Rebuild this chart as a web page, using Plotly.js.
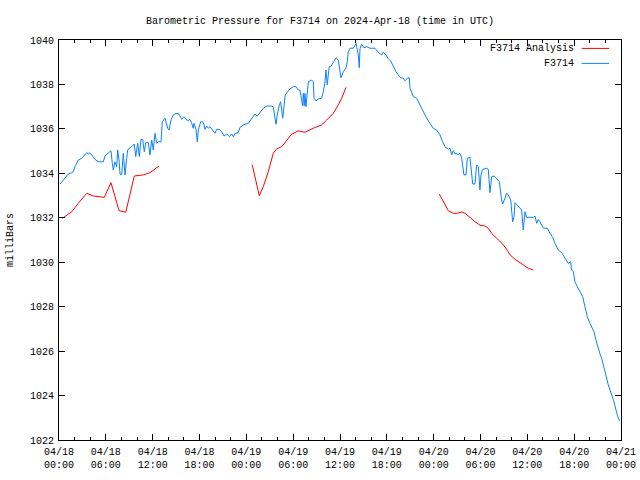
<!DOCTYPE html>
<html>
<head>
<meta charset="utf-8">
<script src="https://cdn.plot.ly/plotly-3.0.1.min.js"></script>
<style>html,body{margin:0;padding:0;background:#fff;}#chart{width:640px;height:480px;}</style>
</head>
<body>
<div id="chart"></div>
<script>
// Hours after 2024-04-18 00:00 UTC, and pressure in millibars
const obsHours = [0.13,0.55,0.77,1.19,1.63,1.83,2.05,2.47,2.91,3.33,3.55,3.75,3.97,4.19,4.61,5.03,5.68,5.89,6.32,6.66,6.83,6.96,7.17,7.39,7.52,7.69,7.82,8.03,8.24,8.46,8.67,8.80,8.97,9.31,9.65,9.83,10.08,10.29,10.50,10.72,10.93,11.11,11.44,11.66,11.88,12.08,12.30,12.52,12.72,13.07,13.23,13.58,13.93,14.09,14.35,14.64,14.86,15.28,15.50,15.72,16.01,16.27,16.56,16.78,17.00,17.20,17.29,17.55,17.72,17.85,18.15,18.41,18.58,18.70,18.92,19.13,19.34,19.69,19.98,20.20,20.54,20.84,21.14,21.48,21.82,22.12,22.33,22.55,22.97,23.19,23.61,24.25,24.69,25.11,25.40,25.75,26.17,26.61,27.25,27.45,27.67,27.80,27.97,28.22,28.40,28.66,28.82,28.99,29.25,29.59,30.02,30.36,30.66,30.87,31.09,31.22,31.30,31.42,31.51,31.64,31.86,31.94,32.37,32.58,32.67,32.92,33.22,33.65,33.86,34.08,34.20,34.37,34.50,34.63,34.81,35.14,35.49,35.78,36.00,36.13,36.42,36.77,36.93,37.06,37.28,37.70,38.05,38.34,38.47,38.56,38.78,39.07,39.42,39.84,40.48,40.78,41.03,41.34,41.55,41.89,42.19,42.49,42.83,43.17,43.47,43.77,44.11,44.32,44.62,44.88,44.97,45.18,45.39,45.82,46.25,46.46,46.76,47.10,47.53,47.95,48.39,48.81,49.15,49.45,49.87,50.09,50.31,50.51,50.73,50.95,51.15,51.37,51.59,51.72,51.88,52.14,52.31,52.65,52.87,53.00,53.29,53.51,53.72,53.93,54.06,54.28,54.79,55.00,55.21,55.43,55.73,56.07,56.41,56.71,56.84,57.14,57.35,57.56,57.87,58.12,58.29,58.42,58.71,59.06,59.27,59.48,59.70,59.92,60.76,60.98,61.20,61.40,61.62,62.04,62.55,62.90,63.25,63.54,63.96,64.40,64.69,65.04,65.24,65.55,65.68,65.89,66.10,66.40,66.74,67.09,67.38,67.68,68.02,68.37,68.54,68.79,69.09,69.31,69.52,69.82,70.07,70.37,70.59,70.93,71.10,71.36,71.65,71.86];
const obsPressure = [1033.52,1033.70,1033.79,1033.97,1034.03,1034.07,1034.30,1034.60,1034.68,1034.87,1034.93,1034.87,1034.93,1034.83,1034.63,1034.52,1034.52,1034.78,1034.90,1035.02,1034.45,1034.15,1034.52,1034.30,1035.05,1034.60,1033.97,1033.93,1034.90,1033.93,1034.68,1035.05,1035.13,1035.20,1035.32,1034.75,1035.35,1034.75,1035.53,1035.53,1034.97,1035.38,1035.38,1034.83,1035.50,1035.05,1035.80,1035.35,1035.42,1035.42,1036.32,1036.48,1036.03,1035.95,1036.40,1036.63,1036.67,1036.70,1036.58,1036.43,1036.55,1036.43,1036.37,1036.43,1036.25,1036.03,1036.25,1035.98,1035.42,1035.95,1036.32,1036.32,1036.18,1035.98,1036.13,1036.03,1036.10,1035.95,1035.80,1035.98,1035.98,1035.87,1035.68,1035.77,1035.65,1035.77,1035.65,1035.80,1035.83,1036.07,1036.18,1036.25,1036.48,1036.67,1036.57,1036.73,1036.93,1037.03,1037.03,1036.99,1036.45,1036.21,1036.63,1037.08,1037.22,1036.48,1037.00,1037.53,1037.65,1037.80,1037.90,1037.90,1037.75,1037.75,1037.30,1037.04,1037.60,1037.04,1037.60,1037.00,1037.80,1038.12,1038.20,1038.12,1037.38,1037.26,1037.35,1037.38,1037.67,1038.12,1038.65,1037.98,1038.43,1038.80,1038.80,1039.02,1039.20,1039.10,1038.65,1038.30,1038.57,1038.73,1039.02,1039.47,1039.63,1039.63,1039.85,1039.33,1038.75,1039.60,1039.81,1039.65,1039.70,1039.63,1039.63,1039.51,1039.40,1039.33,1039.45,1039.33,1039.15,1039.06,1038.80,1038.57,1038.43,1038.30,1038.28,1038.16,1038.28,1038.30,1037.83,1037.65,1037.45,1037.38,1037.08,1036.95,1036.70,1036.48,1036.25,1036.03,1035.95,1035.73,1035.42,1035.20,1035.08,1035.13,1034.83,1035.02,1034.87,1034.90,1034.83,1034.90,1034.68,1034.18,1033.93,1033.93,1034.68,1034.72,1034.07,1033.52,1033.52,1034.38,1034.30,1033.25,1033.93,1034.18,1034.23,1034.18,1033.13,1033.85,1033.88,1033.73,1033.62,1032.80,1032.62,1032.88,1033.10,1033.03,1032.80,1031.82,1032.05,1032.68,1032.58,1032.43,1032.35,1031.45,1032.27,1032.02,1032.02,1032.08,1031.75,1031.93,1031.82,1031.53,1031.53,1031.30,1031.12,1030.85,1030.55,1030.43,1030.25,1030.07,1029.95,1030.02,1029.65,1029.57,1029.12,1028.90,1028.67,1028.45,1028.00,1027.55,1027.25,1027.03,1026.87,1026.50,1026.05,1025.87,1025.68,1025.23,1024.85,1024.48,1024.25,1023.95,1023.72,1023.35,1022.98,1022.85];

const anaHours1 = [0.45,1.63,2.47,3.55,4.39,5.03,5.80,6.66,7.69,8.55,9.65,10.80,11.66,12.81];
const anaPressure1 = [1031.98,1032.27,1032.65,1033.10,1032.98,1032.95,1032.92,1033.58,1032.32,1032.25,1033.88,1033.93,1034.03,1034.33];
const anaHours2 = [24.76,25.66,26.17,26.81,27.45,27.89,28.53,29.17,29.81,30.66,31.51,32.58,33.65,34.29,35.14,35.78,36.22,36.77];
const anaPressure2 = [1034.38,1032.99,1033.40,1034.07,1034.90,1035.10,1035.20,1035.50,1035.76,1035.91,1035.85,1036.03,1036.18,1036.40,1036.70,1037.08,1037.38,1037.87];
const anaHours3 = [48.72,49.15,49.87,50.51,50.95,51.59,52.01,52.65,53.29,53.93,54.57,55.00,55.43,56.07,56.84,57.35,57.78,58.42,59.06,59.57,60.12,60.76];
const anaPressure3 = [1033.07,1032.80,1032.32,1032.20,1032.20,1032.26,1032.20,1032.02,1031.82,1031.67,1031.63,1031.53,1031.30,1031.08,1030.82,1030.58,1030.33,1030.13,1029.98,1029.83,1029.73,1029.65];

const tickHours = [0,6,12,18,24,30,36,42,48,54,60,66,72];
const tickLabels = ["04/18<br>00:00","04/18<br>06:00","04/18<br>12:00","04/18<br>18:00","04/19<br>00:00","04/19<br>06:00","04/19<br>12:00","04/19<br>18:00","04/20<br>00:00","04/20<br>06:00","04/20<br>12:00","04/20<br>18:00","04/21<br>00:00"];

const seriesNames = ["F3714 Analysis", "F3714"];
const seriesColors = ["#ff0000", "#0a80ff"];

const BASE = Date.UTC(2024, 3, 18, 0, 0, 0);
function pad(n){ return (n < 10 ? "0" : "") + n; }
function toDate(h){
  if (h === null) return null;
  const d = new Date(BASE + h * 3600000);
  return d.getUTCFullYear() + "-" + pad(d.getUTCMonth()+1) + "-" + pad(d.getUTCDate()) + " " +
         pad(d.getUTCHours()) + ":" + pad(d.getUTCMinutes()) + ":" + pad(d.getUTCSeconds());
}

const anaX = [].concat(anaHours1, [null], anaHours2, [null], anaHours3).map(toDate);
const anaY = [].concat(anaPressure1, [null], anaPressure2, [null], anaPressure3);

const font = "Liberation Mono, DejaVu Sans Mono, monospace";

const traces = [
  {
    x: anaX, y: anaY, name: seriesNames[0], type: "scatter", mode: "lines",
    connectgaps: false, line: {color: seriesColors[0], width: 1}, showlegend: false
  },
  {
    x: obsHours.map(toDate), y: obsPressure, name: seriesNames[1], type: "scatter", mode: "lines",
    line: {color: seriesColors[1], width: 1}, showlegend: false
  }
];

const layout = {
  width: 640, height: 480,
  margin: {l: 59, r: 19, t: 40, b: 40, pad: 0},
  paper_bgcolor: "#ffffff", plot_bgcolor: "#ffffff",
  font: {family: font, size: 10, color: "#000"},
  title: {text: "Barometric Pressure for F3714 on 2024-Apr-18 (time in UTC)", x: 0.5, xanchor: "center", y: 0.958, yanchor: "middle", font: {family: font, size: 10, color: "#000"}},
  showlegend: false,
  xaxis: {
    type: "date",
    range: [toDate(0), toDate(72)],
    tickmode: "array",
    tickvals: tickHours.map(toDate),
    ticktext: tickLabels,
    ticks: "inside", ticklen: 6, tickwidth: 1, tickcolor: "#000",
    minor: {dtick: 2 * 3600000, ticks: "inside", ticklen: 3, tickwidth: 1, tickcolor: "#000", showgrid: false},
    showline: true, linecolor: "#000", linewidth: 1, mirror: "allticks",
    showgrid: false, zeroline: false,
    ticklabelstandoff: 2,
    tickfont: {family: font, size: 10, color: "#000"},
    fixedrange: true
  },
  yaxis: {
    range: [1022, 1040],
    dtick: 2, tick0: 1022,
    ticks: "inside", ticklen: 6, tickwidth: 1, tickcolor: "#000",
    showline: true, linecolor: "#000", linewidth: 1, mirror: "allticks",
    showgrid: false, zeroline: false,
    tickfont: {family: font, size: 10, color: "#000"},
    ticklabelstandoff: 2,
    title: {text: "milliBars", font: {family: font, size: 10, color: "#000"}, standoff: 14},
    fixedrange: true
  },
  annotations: [
    {xref: "paper", yref: "paper", x: 0.92, y: 0.979, xanchor: "right", yanchor: "middle", text: seriesNames[0], showarrow: false, font: {family: font, size: 10, color: "#000"}},
    {xref: "paper", yref: "paper", x: 0.92, y: 0.9415, xanchor: "right", yanchor: "middle", text: seriesNames[1], showarrow: false, font: {family: font, size: 10, color: "#000"}}
  ],
  shapes: [
    {type: "line", xref: "paper", yref: "paper", x0: 0.93, x1: 0.979, y0: 0.979, y1: 0.979, line: {color: seriesColors[0], width: 1}},
    {type: "line", xref: "paper", yref: "paper", x0: 0.93, x1: 0.979, y0: 0.9415, y1: 0.9415, line: {color: seriesColors[1], width: 1}}
  ]
};

Plotly.newPlot("chart", traces, layout, {staticPlot: true, displayModeBar: false});
</script>
</body>
</html>
